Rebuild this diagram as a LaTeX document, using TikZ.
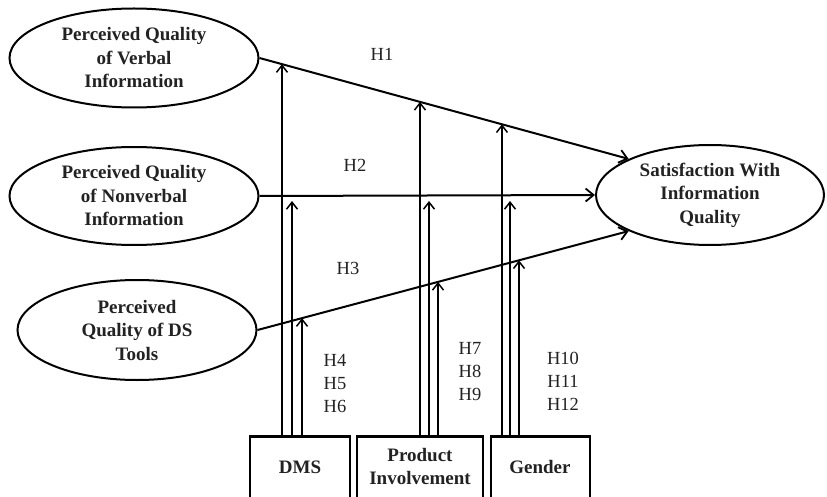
\documentclass[tikz,border=0pt]{standalone}
\usepackage{fontspec}
\setmainfont{Liberation Serif}
\usetikzlibrary{arrows.meta,calc,shapes.geometric}
\definecolor{txt}{HTML}{222222}
\tikzset{
  latent/.style={ellipse,draw=black,line width=2pt,align=center,font=\fontsize{19}{23.5}\selectfont\bfseries,text=txt,inner sep=0pt},
  modbox/.style={draw=black,line width=2.6pt,align=center,font=\fontsize{19}{23}\selectfont\bfseries,text=txt},
  path/.style={line width=2pt,-{Straight Barb[length=8pt,width=13pt,line width=1.8pt]}},
  modpath/.style={line width=1.6pt,-{Straight Barb[length=7pt,width=11pt,line width=1.5pt]}},
  hlab/.style={font=\fontsize{18.5}{23}\selectfont,text=txt,align=center}
}
\begin{document}
\begin{tikzpicture}[x=1pt,y=-1pt]
\clip (0,0) rectangle (827,497);
\fill[white] (0,0) rectangle (827,497);
% latent variables
\node[latent,minimum width=249pt,minimum height=99pt] (verb) at (134,58) {Perceived Quality\\of Verbal\\Information};
\node[latent,minimum width=249pt,minimum height=98pt] (nonv) at (134,196) {Perceived Quality\\of Nonverbal\\Information};
\node[latent,minimum width=239pt,minimum height=100pt] (dst) at (137,330) {Perceived\\Quality of DS\\Tools};
\node[latent,minimum width=228pt,minimum height=100pt] (sat) at (710,195) {Satisfaction With\\Information\\Quality};
% moderator boxes
\node[modbox,minimum width=100pt,minimum height=80pt,anchor=north] (dms) at (300,435) {};
\node[modbox,minimum width=126pt,minimum height=80pt,anchor=north] (inv) at (420,435) {};
\node[modbox,minimum width=99pt,minimum height=80pt,anchor=north] (gen) at (540.5,435) {};
\node[modbox,draw=none] (dmsT) at (300,467) {DMS};
\node[modbox,draw=none] (invT) at (420,466) {Product\\Involvement};
\node[modbox,draw=none] (genT) at (540,467) {Gender};
% main paths
\draw[path] (verb.east) -- (sat.north west);
\draw[path] (nonv.east) -- (sat.west);
\draw[path] (dst.east) -- (sat.south west);
% labels
\node[hlab] (h1) at (382,54) {H1};
\node[hlab] (h2) at (355,165) {H2};
\node[hlab] (h3) at (348,268) {H3};
\node[hlab] (h46) at (335,383) {H4\\H5\\H6};
\node[hlab] (h79) at (470,372) {H7\\H8\\H9};
\node[hlab] (h1012) at (563,381) {H10\\H11\\H12};
% moderating paths
\foreach \bx/\a/\b/\c in {dms/282/292/302, inv/420/429/438, gen/502/510/519}{
  \coordinate (\bx a) at (\a,435);
  \coordinate (\bx b) at (\b,435);
  \coordinate (\bx c) at (\c,435);
  \draw[modpath] (\bx a) -- (intersection cs: first line={(verb.east)--(sat.north west)}, second line={(\bx a)--(\a,0)});
  \draw[modpath] (\bx b) -- (\b,201);
  \draw[modpath] (\bx c) -- (intersection cs: first line={(dst.east)--(sat.south west)}, second line={(\bx c)--(\c,0)});
}
\end{tikzpicture}
\end{document}
